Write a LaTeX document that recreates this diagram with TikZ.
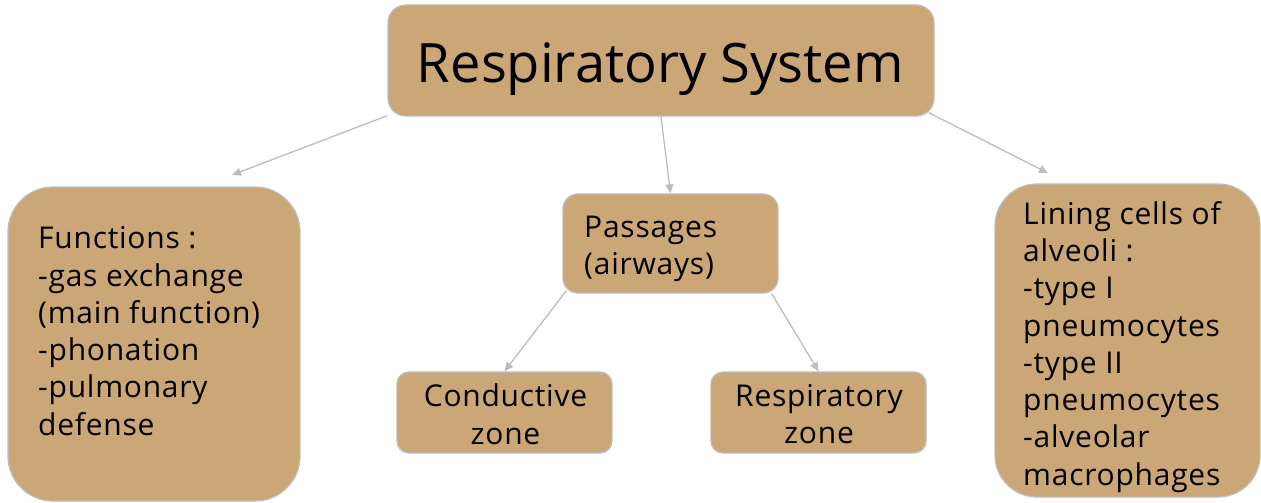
\documentclass[tikz,border=0pt]{standalone}
\usepackage{fontspec}
\setmainfont{Open Sans}
\usetikzlibrary{arrows.meta}
\definecolor{boxfill}{HTML}{CBA677}
\definecolor{edgegray}{HTML}{BDBDBD}
\newcommand{\smalltext}{\fontsize{30}{37.3}\selectfont\addfontfeatures{LetterSpace=2.5}}
\begin{document}
\begin{tikzpicture}[x=1pt,y=-1pt,
  box/.style={draw=edgegray, line width=1.3pt, fill=boxfill, rectangle, inner sep=0pt, rounded corners=#1},
  box/.default=15pt,
  txt/.style={inner sep=0pt, align=left, anchor=north west, font=\smalltext},
  ctxt/.style={inner sep=0pt, align=center, anchor=north, font=\smalltext},
  conn/.style={draw=edgegray, line width=1.3pt, -{Triangle[length=9pt,width=8pt]}}
]
\useasboundingbox (0,0) rectangle (1261,503);
% boxes
\node[box=18pt, minimum width=546pt, minimum height=111pt] (title) at (661,60.5) {};
\node[inner sep=0pt, anchor=base, font=\fontsize{54.3}{60}\selectfont] (titletxt) at (660.5,82) {Respiratory System};

\node[box=45pt, minimum width=292pt, minimum height=314pt] (func) at (154,344) {};
\node[txt] (functxt) at (38,226.5) {Functions :\\-gas exchange\\(main function)\\-phonation\\-pulmonary\\defense};

\node[box=15pt, minimum width=215pt, minimum height=99pt] (pass) at (670.5,243.5) {};
\node[txt] (passtxt) at (584,215.6) {Passages\\(airways)};

\node[box=12pt, minimum width=215pt, minimum height=81pt] (cond) at (504.5,412.5) {};
\node[ctxt] (condtxt) at (505.5,384) {Conductive\\zone};

\node[box=12pt, minimum width=215pt, minimum height=81pt] (resp) at (818.5,412.5) {};
\node[ctxt] (resptxt) at (819,384) {Respiratory\\zone};

\node[box=42pt, minimum width=265pt, minimum height=313pt] (lin) at (1127.5,340.5) {};
\node[txt] (lintxt) at (1023,201) {Lining cells of\\alveoli :\\-type I\\pneumocytes\\-type II\\pneumocytes\\-alveolar\\macrophages};

% connector ends
\coordinate (e1) at (232,175);
\coordinate (e3) at (1048,173);
\draw[conn] (title.south west) ++(0,-1) -- (e1);
\draw[conn] (title.south) -- (pass.north);
\draw[conn] (title.south east) ++(-6,-4) -- (e3);
\draw[conn] (pass.south west) ++(4,-3) -- (cond.north);
\draw[conn] (pass.south east) ++(-7,0) -- (resp.north);
\end{tikzpicture}
\end{document}
